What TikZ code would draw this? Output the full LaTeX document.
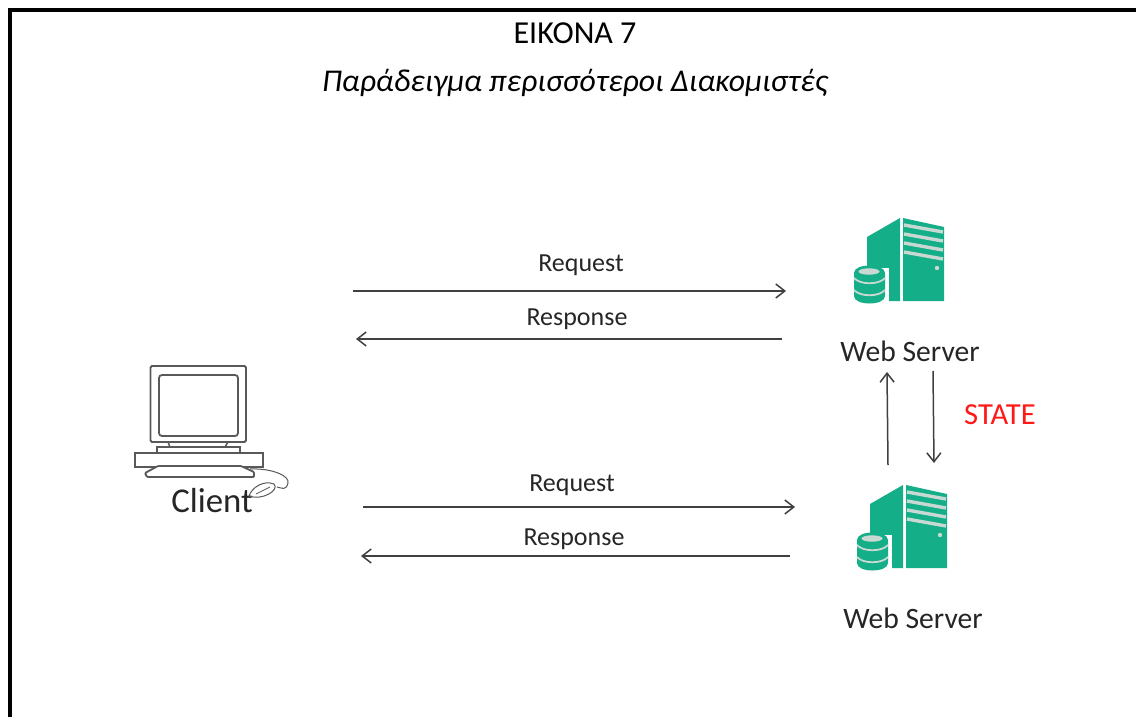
\documentclass[tikz,border=0pt]{standalone}
\usepackage{fontspec}
\setmainfont{Carlito}
\usetikzlibrary{arrows.meta}
\definecolor{srv}{HTML}{14AE88}
\definecolor{srvgap}{HTML}{C8D8D2}
\tikzset{
  flow/.style={draw=black!75,line width=1.5pt,-{Straight Barb[length=9pt,width=14pt,line width=1.5pt]}},
  lbl/.style={font=\fontsize{26}{30}\selectfont,text=black!85,inner sep=0pt},
  wslbl/.style={font=\fontsize{29.6}{34}\selectfont,text=black!85,inner sep=0pt},
  pcline/.style={draw=black!65,line width=1.8pt,fill=white,rounded corners=1.5pt},
  pics/server/.style={code={
    \fill[srv] (37,32) -- (70,13) -- (70,96) -- (37,96) -- cycle;
    \fill[srv] (73,13) -- (114,22) -- (114,96) -- (73,96) -- cycle;
    \foreach \yy in {20,29,38,47}{
      \draw[srvgap,line width=3.4pt] (74,\yy) -- (113,\yy+7);
    }
    \fill[srvgap] (107,63) circle (2.2pt);
    \fill[white] (20,63) rectangle (59,102);
    \fill[srv] (24,68) .. controls (24,58) and (55,58) .. (55,68) -- (55,91) .. controls (55,101) and (24,101) .. (24,91) -- cycle;
    \fill[srvgap] (39,66.5) ellipse (10.5pt and 3.2pt);
    \draw[srvgap,line width=1.8pt] (24,73) .. controls (30,80) and (49,80) .. (55,73);
    \draw[srvgap,line width=1.8pt] (24,85) .. controls (30,92) and (49,92) .. (55,85);
  }}
}
\begin{document}
\begin{tikzpicture}[x=1pt,y=-1pt]
\useasboundingbox (0,0) rectangle (1136,717);
\fill[white] (0,0) rectangle (1136,717);
\draw[black,line width=4pt] (10,717) -- (10,10) -- (1136,10);
\node[font=\fontsize{32}{36}\selectfont,inner sep=0pt] (title) at (575,33) {ΕΙΚΟΝΑ 7};
\node[font=\fontsize{31.7}{36}\selectfont\itshape,inner sep=0pt] (subtitle) at (575,83) {Παράδειγμα περισσότεροι Διακομιστές};

\pic at (830,205) {server};
\pic at (833,472) {server};

% client computer
\draw[pcline] (150.5,366) rectangle (246,442);
\draw[pcline,rounded corners=3pt] (159,375) rectangle (238,436);
\draw[black!65,line width=1.5pt] (168,442) -- (170,447);
\draw[black!65,line width=1.5pt] (228,442) -- (225,447);
\draw[pcline,rounded corners=0pt] (157,447) rectangle (240,453);
\draw[pcline,rounded corners=0pt] (135,453) rectangle (263,467);
\draw[pcline,rounded corners=1pt] (158,466) -- (145,473) -- (147,477) -- (254,477) -- (254,472) -- (241,466) -- cycle;
\draw[black!65,line width=1pt] (250,469) .. controls (272,468) and (290,476) .. (288,483) .. controls (286,491) and (282,488) .. (277,487);
\node[font=\fontsize{34.8}{40}\selectfont,text=black!85,inner sep=0pt] (client) at (212,501) {Client};
\draw[black!65,line width=1pt] (249,496) .. controls (252,487) and (264,480) .. (274,484) .. controls (280,490) and (262,501) .. (249,496) -- cycle;
\draw[black!65,line width=.8pt] (256,494) -- (270,487);

\node[lbl] (req1) at (581,265) {Request};
\node[lbl] (res1) at (577,319) {Response};
\node[lbl] (req2) at (572,485) {Request};
\node[lbl] (res2) at (574,539) {Response};
\node[wslbl] (ws1) at (910,351) {Web Server};
\node[wslbl] (ws2) at (913,618) {Web Server};
\node[font=\fontsize{30.6}{36}\selectfont,text=red!90,inner sep=0pt] (state) at (1000,415) {STATE};

\coordinate (a1) at (353,291); \coordinate (b1) at (786,291);
\coordinate (a2) at (782,339); \coordinate (b2) at (356,339);
\coordinate (a3) at (363,507); \coordinate (b3) at (795,507);
\coordinate (a4) at (790,556); \coordinate (b4) at (361,556);
\coordinate (a5) at (888,465); \coordinate (b5) at (887,372);
\coordinate (a6) at (933,371); \coordinate (b6) at (934,463);
\draw[flow] (a1) -- (b1);
\draw[flow] (a2) -- (b2);
\draw[flow] (a3) -- (b3);
\draw[flow] (a4) -- (b4);
\draw[flow] (a5) -- (b5);
\draw[flow] (a6) -- (b6);
\end{tikzpicture}
\end{document}
